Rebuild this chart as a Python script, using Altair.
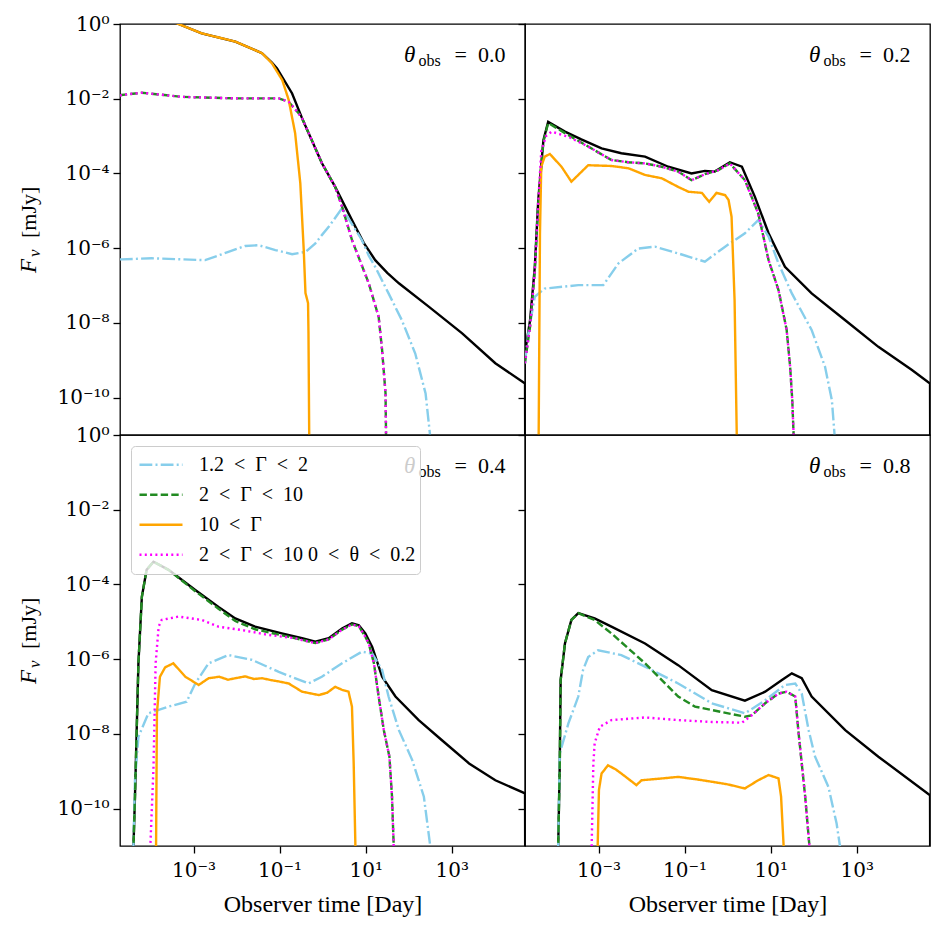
import altair as alt
import pandas as pd

# ---------------------------------------------------------------
# Values (log10 of time [day], log10 of flux [mJy])
# ---------------------------------------------------------------
THETA_LABELS = ["0.0", "0.2", "0.4", "0.8"]

SERIES = ["1.2\u2002<\u2002Γ\u2002<\u20022", "2\u2002<\u2002Γ\u2002<\u200210", "10\u2002<\u2002Γ",
          "2\u2002<\u2002Γ\u2002<\u200210 0\u2002<\u2002θ\u2002<\u20020.2"]
COLORS = ["#87CEEB", "#228B22", "#FFA500", "#FF00FF"]
DASHES = [[12.8, 3.2, 2, 3.2], [7.4, 3.2], [1, 0], [2, 3.3]]

X_DOMAIN = [1.96e-5, 5.0e4]
Y_DOMAIN = [1e-11, 1.0]
X_TICK_EXP = [-3, -1, 1, 3]
Y_TICK_EXP = [0, -2, -4, -6, -8, -10]

# ---- theta_obs = 0.0 ----
P0_TOTAL_LT = [-4.70, -3.6, -3.35, -2.81, -2.03, -1.41, -1.18, -1.06, -0.71, -0.48, -0.02, 0.29, 0.68, 0.95, 1.22, 1.50, 1.77, 2.47, 3.24, 4.01, 4.70, 4.705]
P0_TOTAL_LF = [0.8, 0.12, 0.0, -0.25, -0.47, -0.78, -1.03, -1.19, -1.86, -2.52, -3.72, -4.36, -5.25, -5.85, -6.32, -6.66, -6.94, -7.57, -8.28, -9.08, -9.62, -12.0]
P0_SKY_LT = [-4.71, -4.67, -3.97, -2.73, -2.19, -1.80, -1.49, -1.10, -0.71, -0.40, -0.17, -0.02, 0.14, 0.45, 0.91, 1.07, 1.22, 1.53, 1.84, 2.15, 2.39, 2.49, 2.50]
P0_SKY_LF = [-6.30, -6.30, -6.27, -6.32, -6.10, -5.94, -5.92, -6.05, -6.16, -6.10, -5.87, -5.65, -5.43, -4.93, -5.78, -6.20, -6.50, -7.21, -7.93, -8.82, -9.89, -10.96, -12.0]
P0_GREEN_LT = [-4.71, -4.67, -4.2, -3.27, -2.03, -1.02, -0.79, -0.56, -0.48, -0.02, 0.29, 0.45, 0.68, 1.07, 1.30, 1.38, 1.46, 1.47, 1.48]
P0_GREEN_LF = [-1.92, -1.90, -1.84, -1.95, -1.99, -1.99, -2.08, -2.39, -2.52, -3.72, -4.36, -4.89, -5.78, -6.94, -7.84, -8.73, -9.89, -10.87, -12.0]
P0_ORANGE_LT = [-4.70, -3.6, -3.35, -2.81, -2.03, -1.41, -1.18, -0.94, -0.79, -0.64, -0.52, -0.44, -0.40, -0.34, -0.33, -0.31]
P0_ORANGE_LF = [0.8, 0.12, 0.0, -0.25, -0.47, -0.78, -1.05, -1.5, -2.03, -2.92, -4.26, -6.05, -7.2, -7.47, -8.27, -11.5]
P0_MAGENTA_LT = [-4.71, -4.67, -4.2, -3.27, -2.03, -1.02, -0.79, -0.56, -0.48, -0.02, 0.29, 0.45, 0.68, 1.07, 1.30, 1.38, 1.46, 1.47, 1.48]
P0_MAGENTA_LF = [-1.92, -1.90, -1.84, -1.95, -1.99, -1.99, -2.08, -2.39, -2.52, -3.72, -4.36, -4.89, -5.78, -6.94, -7.84, -8.73, -9.89, -10.87, -12.0]

# ---- theta_obs = 0.2 ----
P1_TOTAL_LT = [-4.71, -4.59, -4.48, -4.40, -4.28, -4.17, -3.78, -3.40, -2.93, -2.47, -1.92, -1.38, -0.84, -0.53, -0.30, 0.05, 0.33, 0.63, 0.95, 1.33, 1.95, 2.73, 3.50, 4.28, 4.70, 4.705]
P1_TOTAL_LF = [-8.82, -7.93, -6.5, -4.71, -3.11, -2.62, -2.88, -3.09, -3.33, -3.46, -3.55, -3.82, -4.0, -3.93, -3.95, -3.70, -3.82, -4.62, -5.6, -6.5, -7.21, -7.93, -8.64, -9.26, -9.62, -12.0]
P1_SKY_LT = [-4.71, -4.63, -4.48, -4.25, -3.47, -2.89, -2.54, -2.08, -1.69, -1.15, -0.53, -0.06, 0.40, 0.71, 0.95, 1.18, 1.49, 1.95, 2.26, 2.42, 2.48, 2.49]
P1_SKY_LF = [-9.08, -8.28, -7.3, -7.08, -6.99, -6.99, -6.41, -6.01, -5.96, -6.14, -6.36, -5.96, -5.6, -5.25, -5.69, -6.41, -7.21, -8.19, -9.17, -10.07, -10.96, -12.0]
P1_GREEN_LT = [-4.71, -4.59, -4.48, -4.40, -4.28, -4.17, -3.78, -3.24, -2.70, -2.31, -1.92, -1.53, -1.15, -0.84, -0.53, -0.22, 0.05, 0.40, 0.71, 0.95, 1.18, 1.37, 1.45, 1.50, 1.53, 1.54]
P1_GREEN_LF = [-9.08, -8.1, -6.6, -4.8, -3.15, -2.65, -2.92, -3.28, -3.64, -3.70, -3.73, -3.82, -3.95, -4.18, -4.02, -3.91, -3.73, -4.18, -5.07, -6.32, -7.12, -8.19, -9.17, -10.07, -10.96, -12.0]
P1_ORANGE_LT = [-4.40, -4.39, -4.36, -4.33, -4.25, -4.13, -3.86, -3.63, -3.24, -2.70, -2.31, -1.92, -1.53, -1.15, -0.91, -0.60, -0.43, -0.26, -0.06, 0.02, 0.09, 0.16, 0.21, 0.22]
P1_ORANGE_LF = [-12.0, -10.96, -5.6, -3.82, -3.55, -3.48, -3.82, -4.22, -3.78, -3.80, -3.86, -4.04, -4.13, -4.36, -4.49, -4.52, -4.76, -4.52, -4.58, -4.71, -5.16, -7.39, -10.96, -12.0]
P1_MAGENTA_LT = [-4.71, -4.59, -4.48, -4.40, -4.33, -4.22, -4.09, -3.70, -3.24, -2.70, -2.31, -1.92, -1.53, -1.15, -0.84, -0.53, -0.22, 0.05, 0.40, 0.71, 0.95, 1.18, 1.37, 1.45, 1.50, 1.53, 1.54]
P1_MAGENTA_LF = [-9.08, -8.1, -6.6, -4.8, -3.4, -3.0, -2.88, -3.02, -3.28, -3.64, -3.70, -3.73, -3.82, -3.95, -4.18, -4.02, -3.91, -3.73, -4.18, -5.07, -6.32, -7.12, -8.19, -9.17, -10.07, -10.96, -12.0]

# ---- theta_obs = 0.4 ----
P2_TOTAL_LT = [-4.40, -4.36, -4.32, -4.28, -4.20, -4.09, -3.93, -3.58, -2.96, -2.42, -2.03, -1.57, -0.95, -0.48, -0.17, 0.14, 0.45, 0.68, 0.84, 0.99, 1.15, 1.38, 1.69, 2.23, 2.77, 3.40, 4.01, 4.70, 4.705]
P2_TOTAL_LF = [-11.2, -9.68, -7.9, -6.11, -4.33, -3.61, -3.39, -3.61, -4.15, -4.6, -4.91, -5.13, -5.31, -5.44, -5.53, -5.44, -5.18, -5.04, -5.09, -5.31, -5.67, -6.47, -7.0, -7.63, -8.17, -8.79, -9.24, -9.59, -12.0]
P2_SKY_LT = [-4.40, -4.36, -4.28, -4.05, -3.58, -3.16, -2.96, -2.65, -2.19, -1.64, -1.02, -0.33, -0.02, 0.45, 0.91, 1.15, 1.38, 1.53, 1.77, 2.08, 2.35, 2.50, 2.51]
P2_SKY_LF = [-11.2, -9.24, -8.08, -7.45, -7.27, -7.14, -6.65, -6.11, -5.89, -6.02, -6.34, -6.65, -6.47, -6.11, -5.8, -5.85, -6.29, -7.0, -7.9, -8.7, -9.68, -11.02, -12.0]
P2_GREEN_LT = [-4.40, -4.36, -4.32, -4.28, -4.20, -4.09, -3.93, -3.58, -2.96, -2.42, -2.03, -1.57, -0.95, -0.48, -0.17, 0.14, 0.45, 0.68, 0.84, 0.99, 1.07, 1.19, 1.30, 1.42, 1.55, 1.61, 1.65, 1.66]
P2_GREEN_LF = [-11.2, -9.68, -7.9, -6.11, -4.33, -3.61, -3.39, -3.61, -4.18, -4.65, -4.98, -5.2, -5.36, -5.48, -5.57, -5.47, -5.21, -5.07, -5.12, -5.4, -5.58, -6.11, -7.0, -7.9, -8.61, -9.68, -11.02, -12.0]
P2_ORANGE_LT = [-3.88, -3.87, -3.85, -3.78, -3.66, -3.47, -3.19, -2.88, -2.65, -2.40, -2.20, -2.03, -1.80, -1.60, -1.41, -1.20, -1.00, -0.79, -0.48, -0.09, 0.10, 0.29, 0.45, 0.60, 0.68, 0.72, 0.76, 0.77]
P2_ORANGE_LF = [-12.0, -11.02, -7.45, -6.47, -6.22, -6.11, -6.47, -6.69, -6.51, -6.47, -6.55, -6.51, -6.46, -6.53, -6.51, -6.56, -6.60, -6.65, -6.87, -6.96, -6.90, -6.74, -6.82, -6.87, -7.27, -8.79, -11.02, -12.0]
P2_MAGENTA_LT = [-4.01, -3.93, -3.88, -3.81, -3.74, -3.35, -2.81, -2.42, -1.88, -1.26, -0.64, -0.48, -0.17, 0.14, 0.45, 0.68, 0.84, 0.99, 1.07, 1.19, 1.30, 1.42, 1.55, 1.61, 1.65, 1.66]
P2_MAGENTA_LF = [-11.2, -8.9, -6.11, -5.13, -4.95, -4.86, -4.95, -5.13, -5.22, -5.35, -5.44, -5.49, -5.57, -5.47, -5.21, -5.07, -5.12, -5.4, -5.58, -6.11, -7.0, -7.9, -8.61, -9.68, -11.02, -12.0]

# ---- theta_obs = 0.8 ----
P3_TOTAL_LT = [-3.94, -3.90, -3.88, -3.78, -3.63, -3.47, -3.09, -2.70, -1.92, -1.15, -0.37, 0.40, 0.87, 1.26, 1.49, 1.72, 1.95, 2.73, 3.50, 4.70, 4.705]
P3_TOTAL_LF = [-11.2, -8.79, -6.56, -5.58, -4.95, -4.77, -4.91, -5.13, -5.58, -6.16, -6.83, -7.11, -6.87, -6.56, -6.38, -6.51, -7.0, -7.9, -8.61, -9.64, -12.0]
P3_SKY_LT = [-3.94, -3.90, -3.70, -3.47, -3.36, -3.24, -3.01, -2.47, -1.92, -1.15, -0.37, 0.40, 0.87, 1.33, 1.57, 1.72, 1.88, 2.03, 2.34, 2.53, 2.61, 2.62]
P3_SKY_LF = [-11.2, -8.52, -7.72, -7.0, -6.29, -5.94, -5.76, -5.89, -6.2, -6.65, -7.18, -7.45, -7.1, -6.69, -6.65, -6.92, -7.9, -8.61, -9.42, -10.4, -11.02, -12.0]
P3_GREEN_LT = [-3.94, -3.90, -3.88, -3.78, -3.63, -3.47, -3.09, -2.70, -1.92, -1.15, -0.76, -0.37, 0.40, 0.56, 0.87, 1.18, 1.37, 1.57, 1.64, 1.72, 1.80, 1.90, 1.91]
P3_GREEN_LF = [-11.2, -8.79, -6.56, -5.58, -4.95, -4.77, -4.95, -5.31, -6.11, -7.0, -7.27, -7.36, -7.54, -7.5, -7.18, -6.92, -6.87, -7.0, -7.9, -8.79, -9.68, -11.02, -12.0]
P3_ORANGE_LT = [-3.03, -3.02, -2.99, -2.93, -2.78, -2.60, -2.47, -2.12, -2.00, -1.60, -1.15, -0.70, -0.37, 0.00, 0.40, 0.71, 0.95, 1.18, 1.24, 1.30, 1.31]
P3_ORANGE_LF = [-12.0, -11.02, -9.5, -9.06, -8.84, -8.95, -9.06, -9.37, -9.24, -9.20, -9.15, -9.22, -9.28, -9.35, -9.46, -9.24, -9.1, -9.19, -9.68, -11.02, -12.0]
P3_MAGENTA_LT = [-3.17, -3.16, -3.12, -3.09, -2.97, -2.70, -1.92, -1.15, -0.37, 0.33, 0.56, 0.87, 1.18, 1.37, 1.57, 1.64, 1.72, 1.80, 1.90, 1.91]
P3_MAGENTA_LF = [-12.0, -11.02, -8.79, -8.25, -7.81, -7.63, -7.56, -7.63, -7.68, -7.70, -7.5, -7.18, -6.92, -6.87, -7.0, -7.9, -8.79, -9.68, -11.02, -12.0]

PANELS = [
    dict(total=(P0_TOTAL_LT, P0_TOTAL_LF), sky=(P0_SKY_LT, P0_SKY_LF), green=(P0_GREEN_LT, P0_GREEN_LF),
         orange=(P0_ORANGE_LT, P0_ORANGE_LF), magenta=(P0_MAGENTA_LT, P0_MAGENTA_LF)),
    dict(total=(P1_TOTAL_LT, P1_TOTAL_LF), sky=(P1_SKY_LT, P1_SKY_LF), green=(P1_GREEN_LT, P1_GREEN_LF),
         orange=(P1_ORANGE_LT, P1_ORANGE_LF), magenta=(P1_MAGENTA_LT, P1_MAGENTA_LF)),
    dict(total=(P2_TOTAL_LT, P2_TOTAL_LF), sky=(P2_SKY_LT, P2_SKY_LF), green=(P2_GREEN_LT, P2_GREEN_LF),
         orange=(P2_ORANGE_LT, P2_ORANGE_LF), magenta=(P2_MAGENTA_LT, P2_MAGENTA_LF)),
    dict(total=(P3_TOTAL_LT, P3_TOTAL_LF), sky=(P3_SKY_LT, P3_SKY_LF), green=(P3_GREEN_LT, P3_GREEN_LF),
         orange=(P3_ORANGE_LT, P3_ORANGE_LF), magenta=(P3_MAGENTA_LT, P3_MAGENTA_LF)),
]
KEYS = ["sky", "green", "orange", "magenta"]

FONT = "Liberation Serif"
TICK_FONT = "DejaVu Serif"
SUP = {"0": "⁰", "1": "¹", "2": "²", "3": "³", "4": "⁴", "5": "⁵", "6": "⁶",
       "7": "⁷", "8": "⁸", "9": "⁹", "-": "⁻"}


def sup(n):
    return "".join(SUP[c] for c in str(n))


def label_expr(exps):
    e = "round(log(datum.value)/LN10)"
    parts = [f"{e} == {x} ? '10{sup(x)}'" for x in exps]
    return " : ".join(parts) + " : ''"


def frame(lt, lf, series):
    return pd.DataFrame({
        "t": [10.0 ** v for v in lt],
        "f": [10.0 ** v for v in lf],
        "series": series,
        "i": list(range(len(lt))),
    })


W, H = 405, 411
LW = 2.4


def make_panel(k):
    p = PANELS[k]
    left = k in (0, 2)
    bottom = k in (2, 3)
    with_legend = (k == 2)

    if bottom:
        xaxis = alt.Axis(values=[10.0 ** e for e in X_TICK_EXP], labelExpr=label_expr(X_TICK_EXP),
                         title="Observer time [Day]", labelFlush=False, labelPadding=7,
                         titlePadding=12, tickSize=7)
    else:
        xaxis = None
    if left:
        yaxis = alt.Axis(values=[10.0 ** e for e in Y_TICK_EXP], labelExpr=label_expr(Y_TICK_EXP),
                         title=None, labelPadding=4, tickSize=7)
    else:
        yaxis = alt.Axis(values=[10.0 ** e for e in Y_TICK_EXP], labels=False, title=None, tickSize=7)

    x = alt.X("t:Q", scale=alt.Scale(type="log", domain=X_DOMAIN, nice=False), axis=xaxis)
    y = alt.Y("f:Q", scale=alt.Scale(type="log", domain=Y_DOMAIN, nice=False), axis=yaxis)

    layers = []
    df_total = frame(*p["total"], "total")
    layers.append(alt.Chart(df_total).mark_line(color="black", strokeWidth=LW, clip=True)
                  .encode(x=x, y=y, order=alt.Order("i:Q")))

    if with_legend:
        leg = alt.Legend(orient="none", legendX=11, legendY=11, title=None, symbolType="stroke",
                         symbolSize=1850, symbolStrokeWidth=LW, symbolOffset=3, labelFont=FONT,
                         labelFontSize=20, labelColor="black", padding=4, rowPadding=0, clipHeight=29.4,
                         labelOffset=15, labelLimit=500,
                         fillColor="rgba(255,255,255,0.8)", strokeColor="#cccccc", cornerRadius=4)
    else:
        leg = None
    for key, name in zip(KEYS, SERIES):
        df = frame(*p[key], name)
        layers.append(
            alt.Chart(df).mark_line(strokeWidth=LW, clip=True).encode(
                x=x, y=y, order=alt.Order("i:Q"),
                color=alt.Color("series:N", scale=alt.Scale(domain=SERIES, range=COLORS), legend=leg),
                strokeDash=alt.StrokeDash("series:N", scale=alt.Scale(domain=SERIES, range=DASHES), legend=leg),
            )
        )

    ann = pd.DataFrame({"val": ["=\u2002" + THETA_LABELS[k]]})
    layers.append(alt.Chart(ann).mark_text(text="θ", font=FONT, fontStyle="italic", fontSize=23,
                                           align="left", baseline="alphabetic", color="black")
                  .encode(x=alt.value(284), y=alt.value(37.5)))
    layers.append(alt.Chart(ann).mark_text(text="obs", font=FONT, fontSize=16,
                                           align="left", baseline="alphabetic", color="black")
                  .encode(x=alt.value(298.5), y=alt.value(41.5)))
    layers.append(alt.Chart(ann).mark_text(font=FONT, fontSize=22, align="right",
                                           baseline="alphabetic", color="black")
                  .encode(x=alt.value(385.5), y=alt.value(37.5), text="val:N"))

    if left:
        layers.append(alt.Chart(ann).mark_text(text="F", font=FONT, fontStyle="italic", fontSize=23,
                                               angle=270, align="left", baseline="alphabetic", color="black")
                      .encode(x=alt.value(-84), y=alt.value(249)))
        layers.append(alt.Chart(ann).mark_text(text="ν", font=FONT, fontStyle="italic", fontSize=17,
                                               angle=270, align="left", baseline="alphabetic", color="black")
                      .encode(x=alt.value(-80), y=alt.value(233)))
        layers.append(alt.Chart(ann).mark_text(text="[mJy]", font=FONT, fontSize=22,
                                               angle=270, align="left", baseline="alphabetic", color="black")
                      .encode(x=alt.value(-84), y=alt.value(214)))

    return alt.layer(*layers).properties(width=W, height=H)


chart = alt.concat(*[make_panel(k) for k in range(4)], columns=2, spacing=0, bounds="flush").resolve_scale(
    color="independent", strokeDash="independent", x="independent", y="independent"
).properties(
    padding={"left": 17, "top": 13, "right": 10, "bottom": 10}
).configure_view(
    stroke="black", strokeWidth=1.3
).configure_axis(
    labelFont=TICK_FONT, labelFontSize=20, labelColor="black", tickColor="black", tickWidth=1.3,
    grid=False, domain=False, titleFont=FONT, titleFontSize=24, titleFontWeight="normal",
    titleColor="black"
)

chart.save("out.html", embed_options={"renderer": "svg", "actions": False})
